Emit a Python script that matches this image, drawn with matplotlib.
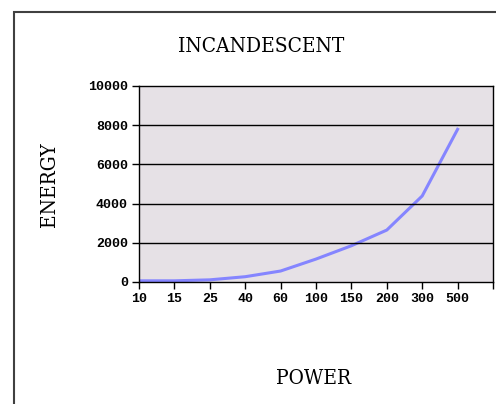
import matplotlib
matplotlib.use("Agg")
import matplotlib.pyplot as plt
from matplotlib.patches import Rectangle

# data
power = ["10", "15", "25", "40", "60", "100", "150", "200", "300", "500"]
energy = [60, 60, 110, 270, 560, 1170, 1850, 2650, 4390, 7790]
yticks = [0, 2000, 4000, 6000, 8000, 10000]

W, H = 496, 404
fig = plt.figure(figsize=(W / 100, H / 100), dpi=100)

# outer frame, clipped on the right and bottom
fig.patches.append(Rectangle((14 / W, -0.1), 1.2, 1 - 12 / H + 0.1,
                             transform=fig.transFigure, fill=False,
                             edgecolor="#404040", linewidth=1.5))

ax = fig.add_axes([139 / W, 1 - 282 / H, (493 - 139) / W, (282 - 86) / H])
ax.set_facecolor("#e6e1e6")
ax.plot(range(len(power)), energy, color="#8585ff", linewidth=2.2,
        solid_joinstyle="round")

ax.set_xlim(0, len(power))
ax.set_ylim(0, 10000)
ax.set_xticks(range(len(power) + 1))
ax.set_xticklabels(power + [""])
ax.set_yticks(yticks)
ax.set_yticklabels([str(v) for v in yticks])
for v in yticks[1:-1]:
    ax.axhline(v, color="black", linewidth=1)

for s in ax.spines.values():
    s.set_linewidth(1)
    s.set_color("black")
ax.tick_params(direction="out", length=5, width=1, color="black",
               labelsize=9.5, pad=3)
for lab in ax.get_xticklabels() + ax.get_yticklabels():
    lab.set_family("Liberation Mono")
    lab.set_fontweight("bold")

title_font = dict(family="DejaVu Serif", stretch="condensed", fontsize=15)
fig.text(261 / W, 1 - 46 / H, "INCANDESCENT", ha="center", va="center",
         **title_font)
fig.text(49 / W, 1 - 185 / H, "ENERGY", ha="center", va="center",
         rotation=90, **title_font)
fig.text(314 / W, 1 - 379 / H, "POWER", ha="center", va="center",
         **title_font)

fig.savefig("out.png", dpi=100)
